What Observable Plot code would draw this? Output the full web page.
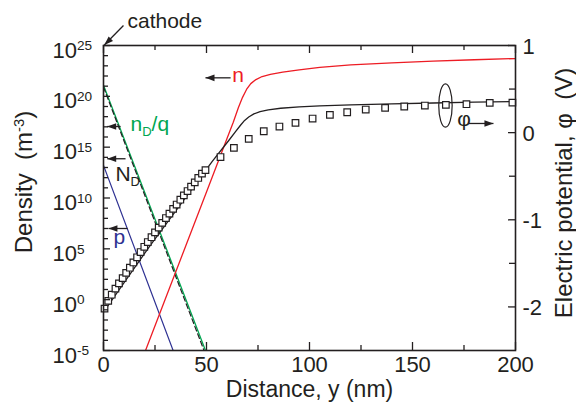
<!DOCTYPE html>
<html><head><meta charset="utf-8">
<script src="https://cdn.jsdelivr.net/npm/d3@7"></script>
<script src="https://cdn.jsdelivr.net/npm/@observablehq/plot@0.6"></script>
<style>
body{margin:0;background:#fff;}
#chart svg{font-family:"Liberation Sans",Arial,Helvetica,sans-serif;}
</style></head><body><div id="chart"></div>
<script>
// ---------- data (densities as log10 exponents, potential in V) ----------
const nX   = [20.4, 30, 40, 50, 56, 60, 63, 65.5, 67.5, 69.5, 71.5, 74, 77, 81, 87, 95, 105, 120, 140, 160, 180, 200];
const nExp = [-5, 0.06, 5.33, 10.6, 13.76, 15.87, 17.45, 18.9, 19.9, 20.7, 21.25, 21.65, 21.95, 22.15, 22.38, 22.6, 22.85, 23.1, 23.3, 23.47, 23.6, 23.72];
const nDqX = [0, 49.5];
const nDqExp = [21.1, -5];
const NDX = [0, 48.8];
const NDExp = [20.9, -5];
const pX = [0, 33.8];
const pExp = [13.2, -5];
const phiLineX = [0, 10, 22.8, 35, 45, 52.8, 60.8, 64, 66.5, 68.5, 70.5, 73, 76, 80, 86, 95, 105, 120, 140, 160, 180, 200];
const phiLine  = [-2.06, -1.72, -1.29, -0.9, -0.58, -0.33, -0.09, 0.01, 0.085, 0.14, 0.18, 0.215, 0.24, 0.262, 0.28, 0.295, 0.307, 0.318, 0.33, 0.34, 0.35, 0.358];
const phiSqX = [0.5, 2.3, 4.0, 5.8, 7.5, 9.3, 11.0, 12.8, 14.5, 16.3, 18.0, 19.8, 21.5, 23.3, 25.0, 26.8, 28.5, 30.3, 32.0, 33.8, 35.5, 37.3, 39.0, 40.8, 42.5, 44.3, 46.0, 47.8, 49.5,
  56.8, 63.3, 70.5, 77.8, 85.4, 93.2, 101.5, 109.9, 118.3, 127.3, 136.7, 146, 156, 166.2, 176.2, 187.5, 198.5];
const phiSq = [-2.02, -1.93, -1.86, -1.79, -1.73, -1.67, -1.61, -1.55, -1.49, -1.43, -1.37, -1.31, -1.255, -1.2, -1.145, -1.09, -1.035, -0.98, -0.93, -0.875, -0.825, -0.77, -0.72, -0.67, -0.62, -0.57, -0.52, -0.47, -0.43,
  -0.28, -0.174, -0.071, 0.016, 0.07, 0.112, 0.162, 0.204, 0.234, 0.265, 0.285, 0.3, 0.311, 0.319, 0.326, 0.342, 0.345];

// ---------- ticks ----------
const xMajor = [0, 50, 100, 150, 200];
const xMinor = [25, 75, 125, 175];
const densMajorExp = [-5, 0, 5, 10, 15, 20, 25];
const densMinorExp = [-4,-3,-2,-1,1,2,3,4,6,7,8,9,11,12,13,14,16,17,18,19,21,22,23,24];
const phiMajor = [-2, -1, 0, 1];
const phiMinor = [-1.5, -0.5, 0.5];
const PHI_MIN = -2.5, PHI_MAX = 1;

// ---------- annotations ----------
const labelText  = ["cathode", "n", "n_{D}/q", "N_{D}", "p", "φ"];
const labelX     = [11.65, 62.5, 13.1, 5.8, 4.85, 171.7];
const labelExp   = [27.43, 22.05, 17.3, 12.38, 6.09, 17.75];
const labelColor = ["#231f20", "#ed1c24", "#00a651", "#231f20", "#2e3192", "#231f20"];
const leftArrowX1  = [61.7, 8.3, 10.7, 11.7];
const leftArrowX2  = [49.5, 1.8, 1.8, 2.4];
const leftArrowExp = [21.82, 17.03, 13.86, 7.0];
const rightArrowX1 = [177.2], rightArrowX2 = [189.3], rightArrowExp = [17.33];
const cathodeArrow = {x1: 9.7, e1: 26.97, x2: 0.4, e2: 25.05};
const ellipseAt = {x: 166, e: 19.1};

// ---------- helpers ----------
const D = e => Math.pow(10, e);
const phiToD = v => D(-5 + (v - PHI_MIN) / (PHI_MAX - PHI_MIN) * 30);
const zip = (xs, es) => xs.map((x, i) => ({x, y: D(es[i])}));
const zipPhi = (xs, vs) => xs.map((x, i) => ({x, y: phiToD(vs[i])}));

const W = 576, H = 414, ML = 103, MR = 61, MT = 45, MB = 64;
const FW = W - ML - MR, FH = H - MT - MB;
const INK = "#231f20";

const leftHead = {draw(c){c.moveTo(0,0);c.lineTo(9,-3.3);c.lineTo(9,3.3);c.closePath();}};
const rightHead = {draw(c){c.moveTo(0,0);c.lineTo(-9,-3.3);c.lineTo(-9,3.3);c.closePath();}};
const diagHead = {draw(c){c.moveTo(0,0);c.lineTo(8.7,-3.9);c.lineTo(4.3,-8.5);c.closePath();}};
const ellipseSym = {draw(c){const rx=6.7, ry=21.7, k=0.5523;
  c.moveTo(rx,0); c.bezierCurveTo(rx,ry*k,rx*k,ry,0,ry); c.bezierCurveTo(-rx*k,ry,-rx,ry*k,-rx,0);
  c.bezierCurveTo(-rx,-ry*k,-rx*k,-ry,0,-ry); c.bezierCurveTo(rx*k,-ry,rx,-ry*k,rx,0); c.closePath();}};

const leftArrows = leftArrowX1.map((x1, i) => ({x1, x2: leftArrowX2[i], y: D(leftArrowExp[i])}));
const rightArrows = rightArrowX1.map((x1, i) => ({x1, x2: rightArrowX2[i], y: D(rightArrowExp[i])}));
const labels = labelText.map((t, i) => ({t, x: labelX[i], y: D(labelExp[i]), c: labelColor[i]}));

const chart = Plot.plot({
  width: W, height: H, marginLeft: ML, marginRight: MR, marginTop: MT, marginBottom: MB,
  x: {domain: [0, 200], axis: null},
  y: {type: "log", domain: [1e-5, 1e25], axis: null},
  style: {background: "white", overflow: "visible", fontFamily: "Liberation Sans, Arial, sans-serif"},
  marks: [
    // data curves
    Plot.line(zip(nDqX, nDqExp), {x: "x", y: "y", stroke: "#00a651", strokeWidth: 1.3, clip: true}),
    Plot.line(zip(NDX, NDExp), {x: "x", y: "y", stroke: INK, strokeWidth: 1.2, strokeDasharray: "5,3", clip: true}),
    Plot.line(zip(pX, pExp), {x: "x", y: "y", stroke: "#2e3192", strokeWidth: 1.2, clip: true}),
    Plot.line(zip(nX, nExp), {x: "x", y: "y", stroke: "#ed1c24", strokeWidth: 1.3, clip: true}),
    Plot.line(zipPhi(phiLineX, phiLine), {x: "x", y: "y", stroke: INK, strokeWidth: 1.3, clip: true}),
    Plot.dot(zipPhi(phiSqX, phiSq), {x: "x", y: "y", symbol: "square", r: 3.7, stroke: INK, strokeWidth: 1.2, fill: "white"}),
    // frame & inward ticks
    Plot.frame({stroke: INK, strokeWidth: 1.6}),
    Plot.ruleX(xMajor, {x: d => d, insetTop: FH - 8, stroke: INK, strokeWidth: 1.3}),
    Plot.ruleX(xMinor, {x: d => d, insetTop: FH - 5, stroke: INK, strokeWidth: 1.3}),
    Plot.ruleX(xMajor, {x: d => d, insetBottom: FH - 8, stroke: INK, strokeWidth: 1.3}),
    Plot.ruleX(xMinor, {x: d => d, insetBottom: FH - 5, stroke: INK, strokeWidth: 1.3}),
    Plot.ruleY(densMajorExp, {y: d => D(d), insetRight: FW - 7, stroke: INK, strokeWidth: 1.3}),
    Plot.ruleY(densMinorExp, {y: d => D(d), insetRight: FW - 5, stroke: INK, strokeWidth: 1.3}),
    Plot.ruleY(phiMajor, {y: d => phiToD(d), insetLeft: FW - 7, stroke: INK, strokeWidth: 1.3}),
    Plot.ruleY(phiMinor, {y: d => phiToD(d), insetLeft: FW - 6, stroke: INK, strokeWidth: 1.3}),
    // tick labels
    Plot.text(xMajor, {x: d => d, text: d => String(d), frameAnchor: "bottom", dy: 21, fontSize: 22, fill: INK}),
    Plot.text(densMajorExp, {y: d => D(d), text: d => `10^{${d}}`, frameAnchor: "left", textAnchor: "start", dx: -51, dy: 5, fontSize: 22, fill: INK}),
    Plot.text(phiMajor, {y: d => phiToD(d), text: d => String(d), frameAnchor: "right", textAnchor: "start", dx: 7, dy: 1, fontSize: 22, fill: INK}),
    // axis titles
    Plot.text(["Distance, y (nm)"], {text: d => d, frameAnchor: "bottom", textAnchor: "middle", dy: 46.6, fontSize: 23, fill: INK}),
    Plot.text(["Density  (m^{-3})"], {text: d => d, frameAnchor: "left", textAnchor: "middle", rotate: -90, dx: -79, dy: -16, fontSize: 24, fill: INK}),
    Plot.text(["Electric potential, φ  (V)"], {text: d => d, frameAnchor: "right", textAnchor: "middle", rotate: -90, dx: 49, dy: -5, fontSize: 24, fill: INK}),
    // annotations
    Plot.link(leftArrows, {x1: "x1", x2: "x2", y1: "y", y2: "y", stroke: INK, strokeWidth: 1.3}),
    Plot.dot(leftArrows, {x: "x2", y: "y", symbol: leftHead, fill: INK, stroke: "none"}),
    Plot.link(rightArrows, {x1: "x1", x2: "x2", y1: "y", y2: "y", stroke: INK, strokeWidth: 1.3}),
    Plot.dot(rightArrows, {x: "x2", y: "y", symbol: rightHead, fill: INK, stroke: "none"}),
    Plot.link([cathodeArrow], {x1: "x1", x2: "x2", y1: d => D(d.e1), y2: d => D(d.e2), stroke: INK, strokeWidth: 1.3}),
    Plot.dot([cathodeArrow], {x: "x2", y: d => D(d.e2), symbol: diagHead, fill: INK, stroke: "none"}),
    Plot.dot([ellipseAt], {x: "x", y: d => D(d.e), symbol: ellipseSym, fill: "none", stroke: INK, strokeWidth: 1.2}),
    Plot.text(labels, {x: "x", y: "y", text: "t", fill: d => d.c, textAnchor: "start", fontSize: 21})
  ]
});
document.getElementById("chart").appendChild(chart);

// rich text: ^{..} superscript, _{..} subscript
const NS = "http://www.w3.org/2000/svg";
chart.querySelectorAll("text").forEach(t => {
  const s = t.textContent;
  if (!/[\^_]\{/.test(s)) return;
  const fs = parseFloat(getComputedStyle(t).fontSize) || 22;
  t.textContent = "";
  let shift = 0, last = 0, m;
  const add = (txt, off, scale) => {
    const ts = document.createElementNS(NS, "tspan");
    ts.textContent = txt;
    const dy = off - shift;
    if (dy) ts.setAttribute("dy", dy);
    shift = off;
    if (scale !== 1) ts.setAttribute("font-size", fs * scale);
    t.appendChild(ts);
  };
  const re = /([\^_])\{([^}]*)\}/g;
  while ((m = re.exec(s))) {
    if (m.index > last) add(s.slice(last, m.index), 0, 1);
    add(m[2], m[1] === "^" ? -0.33 * fs : 0.25 * fs, 0.62);
    last = re.lastIndex;
  }
  if (last < s.length) add(s.slice(last), 0, 1);
});
</script></body></html>
